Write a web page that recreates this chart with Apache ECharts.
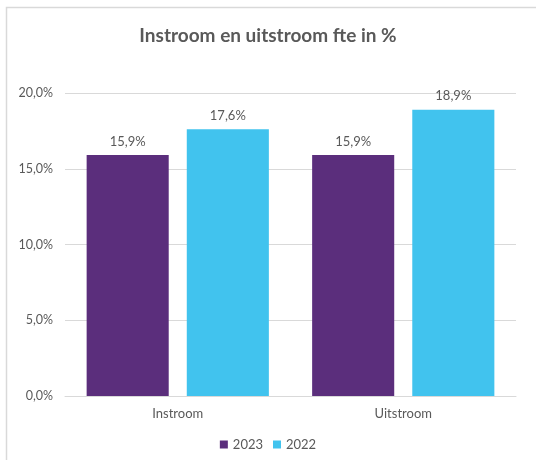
<!DOCTYPE html>
<html>
<head>
<meta charset="utf-8">
<script src="https://cdn.jsdelivr.net/npm/echarts@6/dist/echarts.min.js"></script>
<style>
  html, body { margin: 0; padding: 0; background: #ffffff; }
  #chart { width: 536px; height: 460px; }
</style>
</head>
<body>
<div id="chart"></div>
<script>
// Instroom / uitstroom fte, percentages per year
const categories = ['Instroom', 'Uitstroom'];
const values2023 = [15.9, 15.9];
const values2022 = [17.6, 18.9];
const yTicks = [0, 5, 10, 15, 20];

const fmt = v => v.toFixed(1).replace('.', ',') + '%';
const textColor = '#595959';
const fontFamily = 'Lato, "Noto Sans", sans-serif';

const chart = echarts.init(document.getElementById('chart'), null, { renderer: 'canvas' });

const labelOpt = {
  show: true,
  position: 'top',
  distance: 7,
  color: textColor,
  fontSize: 13,
  fontFamily: fontFamily,
  formatter: p => fmt(p.value)
};

chart.setOption({
  backgroundColor: '#ffffff',
  animation: false,
  title: {
    text: 'Instroom en uitstroom fte in %',
    left: 'center',
    top: 21,
    textStyle: { color: textColor, fontSize: 19, fontWeight: 'bold', fontFamily: fontFamily }
  },
  graphic: [{
    type: 'rect',
    shape: { x: 6.5, y: 7.5, width: 600, height: 600 },
    style: { fill: 'none', stroke: '#d9d9d9', lineWidth: 1.5 },
    silent: true,
    z: -1
  }],
  legend: {
    bottom: 4,
    left: 'center',
    itemWidth: 8,
    itemHeight: 8,
    itemGap: 10,
    icon: 'rect',
    textStyle: { color: textColor, fontSize: 13, fontFamily: fontFamily },
    data: ['2023', '2022']
  },
  grid: { left: 65, right: 20, top: 93, bottom: 64 },
  xAxis: {
    type: 'category',
    data: categories,
    axisLine: { lineStyle: { color: '#d9d9d9', width: 1 } },
    axisTick: { show: false },
    axisLabel: { color: textColor, fontSize: 13, fontFamily: fontFamily, margin: 11 }
  },
  yAxis: {
    type: 'value',
    min: yTicks[0],
    max: yTicks[yTicks.length - 1],
    interval: yTicks[1] - yTicks[0],
    axisLine: { show: false },
    axisTick: { show: false },
    splitLine: { lineStyle: { color: '#d9d9d9', width: 1 } },
    axisLabel: { color: textColor, fontSize: 12.5, fontFamily: fontFamily, margin: 12, formatter: v => fmt(v) }
  },
  series: [
    {
      name: '2023',
      type: 'bar',
      data: values2023,
      barWidth: '36.4%',
      barGap: '22%',
      itemStyle: { color: '#5b2e7c' },
      label: labelOpt
    },
    {
      name: '2022',
      type: 'bar',
      data: values2022,
      barWidth: '36.4%',
      itemStyle: { color: '#41c3ee' },
      label: labelOpt
    }
  ]
});
</script>
</body>
</html>
